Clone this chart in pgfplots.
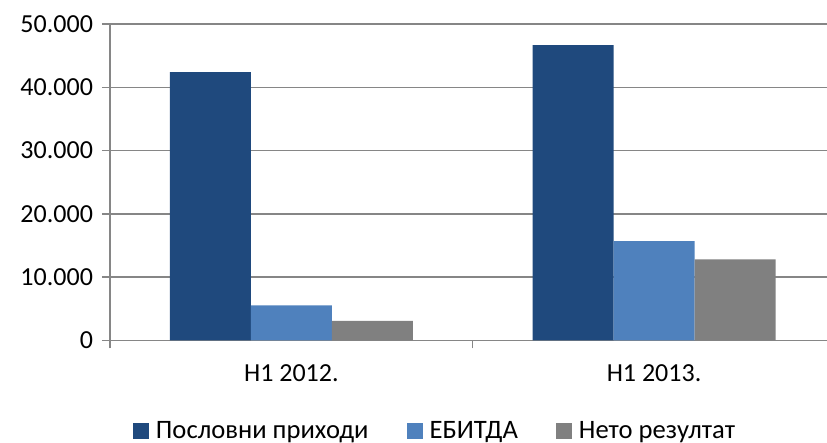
\documentclass[border=0pt]{standalone}
\usepackage{fontspec}
\setmainfont{Carlito}
\usepackage{pgfplots}
\pgfplotsset{compat=1.18}
\definecolor{c1}{RGB}{31,73,125}
\definecolor{c2}{RGB}{79,129,189}
\definecolor{c3}{RGB}{128,128,128}
\definecolor{gridc}{RGB}{134,134,134}
\begin{document}
\begin{tikzpicture}
\begin{axis}[
  scale only axis, width=358.5pt, height=158.25pt,
  at={(0pt,0pt)}, anchor=south west,
  xmin=-0.5, xmax=1.4768, ymin=0, ymax=50000,
  ybar=0pt, bar width=40.5pt,
  axis lines=left, axis line style={-, draw=gridc, line width=0.75pt},
  ymajorgrids, grid style={draw=gridc, line width=0.75pt},
  ytick={0,10000,20000,30000,40000,50000},
  xtick={-0.5,0.5}, xticklabels={},
  extra x ticks={0,1}, extra x tick labels={H1 2012.,H1 2013.},
  extra x tick style={major tick length=0pt, grid=none},
  tick align=outside, major tick length=4pt,
  tick style={draw=gridc, line width=0.75pt},
  tick pos=left,
  scaled y ticks=false,
  /pgf/number format/.cd, 1000 sep={.}, assume math mode=true,
  /pgfplots/.cd,
  ticklabel style={font=\fontsize{13}{15}\selectfont, text=black},
  yticklabel style={xshift=-1pt},
  xticklabel style={yshift=-8.5pt},
  legend style={at={(0.4547,-0.2859)}, anchor=center, draw=none,
    font=\fontsize{13.3}{15}\selectfont, legend columns=3,
    /tikz/every odd column/.append style={column sep=1.5pt},
    /tikz/every even column/.append style={column sep=17pt}},
  legend image code/.code={\fill[#1] (0pt,-4pt) rectangle (8pt,4pt);},
]
\addplot[fill=c1, draw=none] coordinates {(0,42400) (1,46650)};
\addplot[fill=c2, draw=none] coordinates {(0,5550) (1,15700)};
\addplot[fill=c3, draw=none] coordinates {(0,3080) (1,12800)};
\legend{Пословни приходи, ЕБИТДА, Нето резултат}
\end{axis}
\pgfresetboundingbox
\useasboundingbox (-55pt,-51.25pt) rectangle (358.5pt,170.25pt);
\end{tikzpicture}
\end{document}
